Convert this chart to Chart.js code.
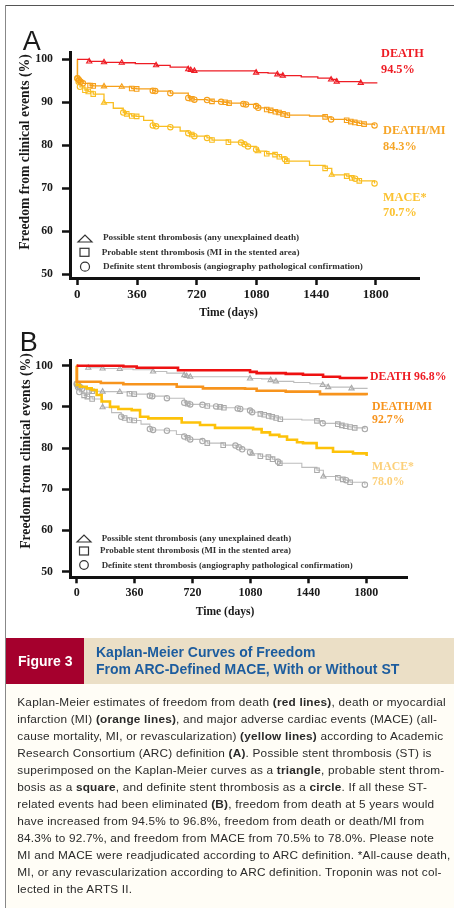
<!DOCTYPE html>
<html><head><meta charset="utf-8">
<script src="https://cdn.jsdelivr.net/npm/chart.js@4.4.1/dist/chart.umd.min.js"></script>
<style>
html,body{margin:0;padding:0;background:#fff;}
#page{position:relative;width:454px;height:908px;overflow:hidden;background:#fff;}
.t{position:absolute;white-space:nowrap;}
.serif{font-family:'Liberation Serif','Times New Roman',serif;font-weight:bold;}
.sans{font-family:'Liberation Sans',Arial,sans-serif;}
canvas{position:absolute;left:0;}
</style></head>
<body><div id="page">
<div style="position:absolute;left:5px;top:5px;width:449px;height:1px;background:#555"></div>
<div style="position:absolute;left:5px;top:5px;width:1px;height:903px;background:#888"></div>

<canvas id="chartA" width="454" height="330" style="top:0"></canvas>
<canvas id="chartB" width="454" height="316" style="top:320px"></canvas>

<!-- panel letters -->
<div class="t sans" style="left:22.7px;top:27.9px;font-size:27px;line-height:27px;color:#1a1a1a">A</div>
<div class="t sans" style="left:19.7px;top:328.9px;font-size:27px;line-height:27px;color:#1a1a1a">B</div>

<!-- axis titles A -->
<div class="t serif" style="left:24.5px;top:151.5px;font-size:13.7px;line-height:13.7px;color:#1a1a1a;transform:translate(-50%,-50%) rotate(-90deg)">Freedom from clinical events (%)</div>
<div class="t serif" style="left:228.5px;top:306.6px;font-size:11.6px;line-height:11.6px;color:#1a1a1a;transform:translateX(-50%)">Time (days)</div>
<!-- axis titles B -->
<div class="t serif" style="left:26px;top:450.5px;font-size:13.7px;line-height:13.7px;color:#1a1a1a;transform:translate(-50%,-50%) rotate(-90deg)">Freedom from clinical events (%)</div>
<div class="t serif" style="left:225px;top:606.3px;font-size:11.6px;line-height:11.6px;color:#1a1a1a;transform:translateX(-50%)">Time (days)</div>

<!-- end labels A -->
<div class="t serif" style="left:381px;top:46.5px;font-size:12.3px;line-height:12.3px;color:#ee1c24">DEATH</div>
<div class="t serif" style="left:381px;top:62.9px;font-size:12.3px;line-height:12.3px;color:#ee1c24">94.5%</div>
<div class="t serif" style="left:383px;top:123.9px;font-size:12.3px;line-height:12.3px;color:#f6a526">DEATH/MI</div>
<div class="t serif" style="left:383px;top:139.9px;font-size:12.3px;line-height:12.3px;color:#f6a526">84.3%</div>
<div class="t serif" style="left:383px;top:190.5px;font-size:12.3px;line-height:12.3px;color:#fbc232">MACE*</div>
<div class="t serif" style="left:383px;top:206.2px;font-size:12.3px;line-height:12.3px;color:#fbc232">70.7%</div>
<!-- end labels B -->
<div class="t serif" style="left:370px;top:371.4px;font-size:11.8px;line-height:11.8px;color:#ee1c24">DEATH 96.8%</div>
<div class="t serif" style="left:372px;top:400.8px;font-size:11.8px;line-height:11.8px;color:#f7941e">DEATH/MI</div>
<div class="t serif" style="left:372px;top:414.3px;font-size:11.8px;line-height:11.8px;color:#f7941e">92.7%</div>
<div class="t serif" style="left:372px;top:460.8px;font-size:11.8px;line-height:11.8px;color:#fcd07a">MACE*</div>
<div class="t serif" style="left:372px;top:475.8px;font-size:11.8px;line-height:11.8px;color:#fcd07a">78.0%</div>

<!-- legends -->
<div class="t serif" style="left:103px;top:233.2px;font-size:9.2px;line-height:9.2px;color:#333">Possible stent thrombosis (any unexplained death)</div>
<div class="t serif" style="left:101.7px;top:247.6px;font-size:9.2px;line-height:9.2px;color:#333">Probable stent thrombosis (MI in the stented area)</div>
<div class="t serif" style="left:103px;top:261.6px;font-size:9.2px;line-height:9.2px;color:#333">Definite stent thrombosis (angiography pathological confirmation)</div>
<div class="t serif" style="left:101.7px;top:534.1px;font-size:8.9px;line-height:8.9px;color:#333">Possible stent thrombosis (any unexplained death)</div>
<div class="t serif" style="left:100px;top:546.1px;font-size:8.9px;line-height:8.9px;color:#333">Probable stent thrombosis (MI in the stented area)</div>
<div class="t serif" style="left:101.7px;top:560.6px;font-size:8.9px;line-height:8.9px;color:#333">Definite stent thrombosis (angiography pathological confirmation)</div>
<svg width="454" height="908" style="position:absolute;left:0;top:0;pointer-events:none" fill="none" stroke="#333" stroke-width="1.2">
<polygon points="78,242 92,242 85,235"/>
<rect x="80" y="248.3" width="9" height="8"/>
<circle cx="85" cy="266.7" r="4.5"/>
<polygon points="77,542 91,542 84,535"/>
<rect x="79.5" y="547" width="9" height="8"/>
<circle cx="84" cy="565" r="4.3"/>
</svg>

<!-- figure bar -->
<div style="position:absolute;left:6px;top:638px;width:448px;height:46px;background:#ebdfc6"></div>
<div style="position:absolute;left:6px;top:638px;width:78px;height:46px;background:#a5002d"></div>
<div class="t sans" style="left:18px;top:654.2px;font-size:14px;line-height:14px;font-weight:bold;color:#fff">Figure 3</div>
<div class="t sans" style="left:96px;top:644.2px;font-size:14px;line-height:17.3px;font-weight:bold;color:#1c5c9e">Kaplan-Meier Curves of Freedom<br>From ARC-Defined MACE, With or Without ST</div>
<div style="position:absolute;left:6px;top:684px;width:448px;height:224px;background:#fffdf6"></div>
<div class="t sans" style="left:17.3px;top:693.8px;font-size:11.8px;line-height:17.04px;letter-spacing:0.2px;color:#2a2a2a">Kaplan-Meier estimates of freedom from death <b>(red lines)</b>, death or myocardial<br>infarction (MI) <b>(orange lines)</b>, and major adverse cardiac events (MACE) (all-<br>cause mortality, MI, or revascularization) <b>(yellow lines)</b> according to Academic<br>Research Consortium (ARC) definition <b>(A)</b>. Possible stent thrombosis (ST) is<br>superimposed on the Kaplan-Meier curves as a <b>triangle</b>, probable stent throm-<br>bosis as a <b>square</b>, and definite stent thrombosis as a <b>circle</b>. If all these ST-<br>related events had been eliminated <b>(B)</b>, freedom from death at 5 years would<br>have increased from 94.5% to 96.8%, freedom from death or death/MI from<br>84.3% to 92.7%, and freedom from MACE from 70.5% to 78.0%. Please note<br>MI and MACE were readjudicated according to ARC definition. *All-cause death,<br>MI, or any revascularization according to ARC definition. Troponin was not col-<br>lected in the ARTS II.</div>
</div>

<script>
// ---- tick labels ----
const xTicks = [0, 360, 720, 1080, 1440, 1800];
const yTicks = [50, 60, 70, 80, 90, 100];

// ---- Panel A: all events (marks: t = possible ST, s = probable ST, c = definite ST) ----
const deathDays  = [0, 72, 161, 268, 350, 475, 560, 669, 684, 706, 1078, 1150, 1206, 1239, 1350, 1450, 1530, 1564, 1709, 1809];
const deathVals  = [100, 99.5, 99.3, 99.2, 99.0, 98.6, 98.2, 97.7, 97.5, 97.3, 96.9, 96.8, 96.5, 96.2, 95.9, 95.6, 95.3, 94.8, 94.5, 94.5];
const deathMarks = ['', 't','t','t','', 't','', 't','t','t','t','', 't','t','','', 't','t','t',''];

const dmiDays  = [0, 1, 10, 20, 34, 77, 96, 161, 268, 328, 358, 455, 470, 561, 669, 690, 706, 782, 812, 867, 891, 915, 1001, 1017, 1078, 1091, 1142, 1166, 1194, 1216, 1240, 1266, 1400, 1494, 1530, 1624, 1649, 1673, 1700, 1729, 1792];
const dmiVals  = [100, 95.6, 95.2, 94.8, 94.4, 93.9, 93.8, 93.7, 93.6, 93.2, 93.1, 92.7, 92.6, 92.1, 91.0, 90.8, 90.6, 90.5, 90.2, 90.1, 90.0, 89.8, 89.6, 89.5, 89.1, 88.7, 88.3, 88.1, 87.8, 87.6, 87.3, 87.0, 86.8, 86.6, 86.0, 85.8, 85.5, 85.3, 85.1, 84.9, 84.6];
const dmiMarks = ['', 'c','c','c','c','s','s','t','t','s','s','c','c','c','c','s','c','c','s','c','s','s','c','c','c','c','s','s','s','s','s','s','','s','c','s','s','s','s','s','c'];

const maceDays  = [0, 1, 8, 16, 46, 66, 96, 161, 217, 277, 298, 328, 358, 400, 455, 475, 561, 620, 669, 690, 706, 782, 812, 911, 987, 1008, 1029, 1078, 1090, 1142, 1192, 1218, 1252, 1263, 1400, 1494, 1534, 1624, 1655, 1675, 1700, 1792];
const maceVals  = [100, 95.5, 94.8, 93.6, 92.8, 92.5, 91.9, 89.9, 88.6, 87.6, 87.3, 86.8, 86.7, 85.8, 84.6, 84.4, 84.2, 83.3, 82.8, 82.5, 82.1, 81.7, 81.2, 80.7, 80.6, 80.2, 79.7, 79.0, 78.6, 78.0, 77.8, 77.3, 76.7, 76.3, 75.3, 74.6, 73.1, 72.8, 72.4, 72.2, 71.7, 71.1];
const maceMarks = ['', 'c','c','c','s','s','s','t','','c','s','s','s','','c','c','c','','c','s','c','c','s','s','c','c','c','c','t','s','s','s','c','s','','s','t','s','s','c','s','c'];

// ---- Panel B: ST-related events eliminated ----
const deathNoStDays = [0, 290, 373, 630, 1078, 1119, 1300, 1407, 1532, 1637, 1803];
const deathNoStVals = [100, 99.8, 99.5, 98.9, 98.5, 98.2, 98.0, 97.8, 97.3, 97.0, 96.9];

const dmiNoStDays = [0, 1, 150, 290, 622, 785, 1047, 1119, 1300, 1513, 1803];
const dmiNoStVals = [100, 96.1, 95.8, 95.5, 94.9, 94.5, 94.4, 93.9, 93.7, 93.1, 92.8];

const maceNoStDays = [0, 1, 20, 62, 93, 124, 155, 207, 259, 342, 394, 445, 653, 767, 860, 1097, 1150, 1202, 1260, 1308, 1370, 1407, 1492, 1594, 1718, 1803];
const maceNoStVals = [100, 95.3, 94.9, 94.5, 94.1, 92.9, 91.3, 90.0, 89.5, 89.2, 87.6, 87.2, 86.2, 85.6, 84.9, 84.6, 83.8, 83.2, 82.8, 82.0, 81.4, 81.2, 80.0, 79.1, 78.7, 78.1];

const STYLE = {t:'triangle', s:'rect', c:'circle'};
const RADIUS = {t:3, s:3.2, c:2.7};

function pts(days, vals){ return days.map((d,i)=>({x:d, y:vals[i]})); }
function km(days, vals, marks, color, width, markColor){
  return {
    data: pts(days, vals), borderColor: color, borderWidth: width, stepped: true, fill: false,
    pointStyle: ctx => (marks && STYLE[marks[ctx.dataIndex]]) || 'circle',
    pointRadius: ctx => (marks && RADIUS[marks[ctx.dataIndex]]) || 0,
    pointHoverRadius: 0,
    pointBorderColor: markColor || color, pointBackgroundColor: 'rgba(0,0,0,0)', pointBorderWidth: 1.1
  };
}
const tickFam = "'Liberation Serif', 'Times New Roman', serif";
function scales(p){
  return {
    x: { type:'linear', min:p.xmin, max:p.xmax,
      afterBuildTicks: s => { s.ticks = xTicks.map(v=>({value:v})); },
      afterFit: s => { s.height = 40; },
      ticks: { callback: v => String(v), font:{family:tickFam, weight:'bold', size:p.xfs}, color:'#1a1a1a', padding:2, maxRotation:0, autoSkip:false },
      grid: { display:true, drawOnChartArea:false, drawTicks:true, tickLength:p.xtl, tickWidth:2.5, tickColor:'#111' },
      border: { display:true, width:3, color:'#111' } },
    y: { type:'linear', min:p.ymin, max:p.ymax,
      afterBuildTicks: s => { s.ticks = yTicks.map(v=>({value:v})); },
      afterFit: s => { s.width = 70; },
      ticks: { callback: v => String(v), font:{family:tickFam, weight:'bold', size:p.yfs}, color:'#1a1a1a', padding:9, autoSkip:false },
      grid: { display:true, drawOnChartArea:false, drawTicks:true, tickLength:8, tickWidth:2.5, tickColor:'#111' },
      border: { display:true, width:3, color:'#111' } }
  };
}
const base = { responsive:false, maintainAspectRatio:false, animation:false, devicePixelRatio:1, events:[],
  plugins:{ legend:{display:false}, tooltip:{enabled:false} } };

new Chart(document.getElementById('chartA'), {
  type:'line',
  data:{ datasets:[
    km(deathDays, deathVals, deathMarks, '#ee1c24', 1.3),
    km(dmiDays, dmiVals, dmiMarks, '#f6a01a', 1.3),
    km(maceDays, maceVals, maceMarks, '#f9be22', 1.3)
  ]},
  options: Object.assign({}, base, {
    layout:{ padding:{ left:0, top:52, right:35, bottom:12 } },
    scales: scales({xmin:-44, xmax:2060, ymin:49.07, ymax:101.7, xfs:13, yfs:11.8, xtl:7})
  })
});

new Chart(document.getElementById('chartB'), {
  type:'line',
  data:{ datasets:[
    km(deathNoStDays, deathNoStVals, null, '#ee1111', 2.6),
    km(dmiNoStDays, dmiNoStVals, null, '#f7941d', 2.6),
    km(maceNoStDays, maceNoStVals, null, '#fdc20a', 2.6),
    km(deathDays, deathVals, deathMarks, '#bdbdbd', 1.1, '#aaaaaa'),
    km(dmiDays, dmiVals, dmiMarks, '#bdbdbd', 1.1, '#aaaaaa'),
    km(maceDays, maceVals, maceMarks, '#bdbdbd', 1.1, '#aaaaaa')
  ]},
  options: Object.assign({}, base, {
    layout:{ padding:{ left:0, top:40, right:47, bottom:18.7 } },
    scales: scales({xmin:-41.7, xmax:2054, ymin:48.62, ymax:101.38, xfs:12, yfs:11.8, xtl:6})
  })
});
</script>
</body></html>
